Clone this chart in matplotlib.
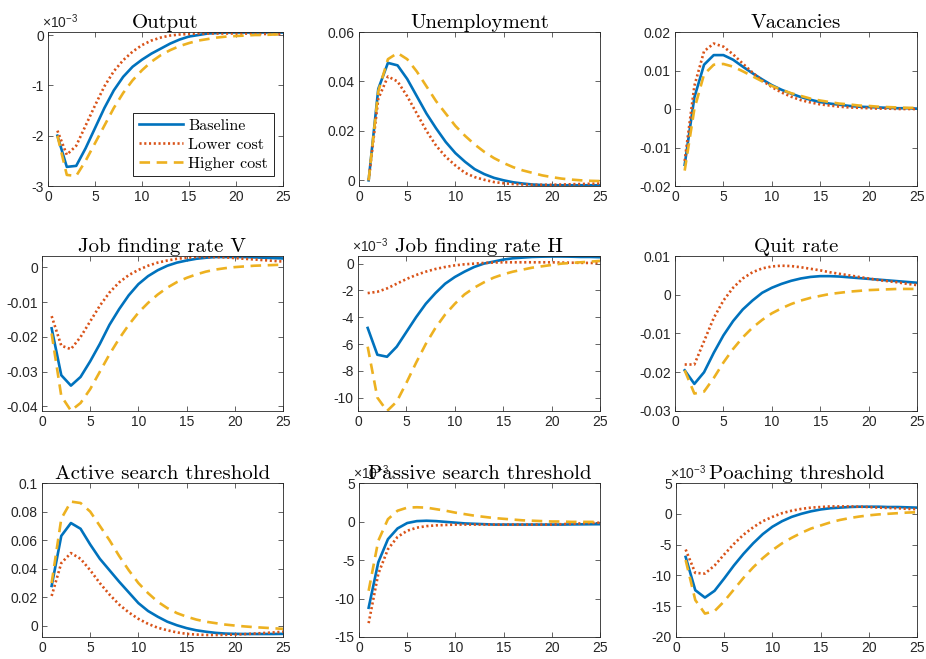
import matplotlib
matplotlib.use("Agg")
import matplotlib.pyplot as plt
from matplotlib.ticker import FuncFormatter
import numpy as np

plt.rcParams['font.family'] = ['Liberation Sans', 'DejaVu Sans']
plt.rcParams['axes.unicode_minus'] = False
plt.rcParams['mathtext.fontset'] = 'custom'
plt.rcParams['mathtext.rm'] = 'Liberation Sans'
plt.rcParams['mathtext.it'] = 'Liberation Sans'

# -----------------------------
# data (horizon 1..25)
# -----------------------------
t = np.arange(1, 26)

# Output (x1e-3)
output_base = [-2.0, -2.62, -2.6, -2.25, -1.85, -1.45, -1.1, -0.83, -0.63, -0.49, -0.37, -0.27, -0.17,
               -0.09, -0.03, 0.0, 0.03, 0.04, 0.05, 0.05, 0.05, 0.05, 0.05, 0.05, 0.05]
output_low = [-1.9, -2.38, -2.2, -1.8, -1.4, -1.02, -0.72, -0.5, -0.33, -0.2, -0.11, -0.05, -0.01,
              0.01, 0.02, 0.03, 0.03, 0.03, 0.03, 0.03, 0.03, 0.02, 0.02, 0.02, 0.02]
output_high = [-2.0, -2.78, -2.8, -2.5, -2.15, -1.8, -1.45, -1.15, -0.9, -0.7, -0.53, -0.4, -0.3,
               -0.22, -0.16, -0.11, -0.08, -0.05, -0.03, -0.02, -0.01, 0.0, 0.0, 0.01, 0.01]

# Unemployment
unemp_base = [0.0, 0.037, 0.0475, 0.0465, 0.041, 0.034, 0.027, 0.021, 0.0155, 0.011, 0.0075, 0.0045,
              0.0025, 0.001, 0.0, -0.0008, -0.0013, -0.0017, -0.0019, -0.002, -0.002, -0.002, -0.002,
              -0.002, -0.002]
unemp_low = [0.0, 0.033, 0.042, 0.04, 0.034, 0.027, 0.02, 0.014, 0.0095, 0.006, 0.003, 0.0013, 0.0002,
             -0.0007, -0.0012, -0.0015, -0.0017, -0.0018, -0.0018, -0.0018, -0.0017, -0.0016, -0.0015,
             -0.0014, -0.0013]
unemp_high = [0.0, 0.036, 0.049, 0.0515, 0.049, 0.044, 0.038, 0.032, 0.027, 0.022, 0.018, 0.0145,
              0.0115, 0.009, 0.007, 0.0053, 0.004, 0.003, 0.002, 0.0013, 0.0007, 0.0003, 0.0, -0.0002,
              -0.0003]

# Vacancies
vac_base = [-0.0145, 0.003, 0.0115, 0.014, 0.014, 0.0128, 0.011, 0.0093, 0.0077, 0.0062, 0.005, 0.004,
            0.0031, 0.0024, 0.0018, 0.0014, 0.0011, 0.0008, 0.0006, 0.0005, 0.0004, 0.0003, 0.0002,
            0.0002, 0.0001]
vac_low = [-0.0135, 0.006, 0.015, 0.017, 0.0162, 0.0142, 0.0118, 0.0095, 0.0074, 0.0057, 0.0043, 0.0032,
           0.0023, 0.0017, 0.0012, 0.0009, 0.0006, 0.0004, 0.0003, 0.0002, 0.0001, 0.0001, 0.0, 0.0, 0.0]
vac_high = [-0.016, 0.0, 0.009, 0.0115, 0.0117, 0.011, 0.0098, 0.0085, 0.0072, 0.006, 0.005, 0.0041,
            0.0034, 0.0027, 0.0022, 0.0018, 0.0014, 0.0012, 0.0009, 0.0008, 0.0006, 0.0005, 0.0004,
            0.0003, 0.0003]

# Job finding rate V
jfv_base = [-0.0175, -0.031, -0.034, -0.0315, -0.027, -0.022, -0.0165, -0.012, -0.008, -0.0048, -0.0025,
            -0.0008, 0.0005, 0.0014, 0.002, 0.0025, 0.0028, 0.003, 0.003, 0.003, 0.003, 0.0029, 0.0028,
            0.0027, 0.0026]
jfv_low = [-0.014, -0.0225, -0.0235, -0.02, -0.0155, -0.011, -0.0072, -0.0043, -0.0022, -0.0007, 0.0005,
           0.0014, 0.002, 0.0025, 0.0028, 0.003, 0.003, 0.003, 0.0029, 0.0027, 0.0025, 0.0023, 0.0021,
           0.0019, 0.0017]
jfv_high = [-0.019, -0.037, -0.0412, -0.039, -0.035, -0.03, -0.025, -0.0205, -0.0165, -0.013, -0.0102,
            -0.0078, -0.0058, -0.0042, -0.003, -0.002, -0.0012, -0.0006, -0.0002, 0.0001, 0.0003, 0.0005,
            0.0006, 0.0007, 0.0008]

# Job finding rate H (x1e-3)
jfh_base = [-4.8, -6.8, -6.95, -6.2, -5.1, -4.0, -3.0, -2.2, -1.5, -1.0, -0.6, -0.25, 0.0, 0.15, 0.3,
            0.4, 0.45, 0.5, 0.52, 0.53, 0.53, 0.52, 0.5, 0.5, 0.48]
jfh_low = [-2.2, -2.1, -1.85, -1.5, -1.15, -0.85, -0.6, -0.4, -0.25, -0.13, -0.05, 0.0, 0.05, 0.08, 0.1,
           0.1, 0.1, 0.1, 0.1, 0.1, 0.08, 0.07, 0.06, 0.05, 0.05]
jfh_high = [-6.2, -10.0, -11.0, -10.3, -8.9, -7.4, -6.0, -4.8, -3.8, -3.0, -2.3, -1.8, -1.4, -1.05, -0.8,
            -0.6, -0.45, -0.3, -0.2, -0.1, 0.0, 0.05, 0.1, 0.15, 0.2]

# Quit rate
quit_base = [-0.0195, -0.023, -0.02, -0.015, -0.0105, -0.0068, -0.0038, -0.0015, 0.0005, 0.0018, 0.0028,
             0.0036, 0.0042, 0.0046, 0.0048, 0.0048, 0.0047, 0.0045, 0.0043, 0.0041, 0.0039, 0.0037,
             0.0035, 0.0033, 0.0031]
quit_low = [-0.018, -0.018, -0.012, -0.006, -0.0015, 0.0018, 0.0042, 0.0058, 0.0068, 0.0073, 0.0075,
            0.0074, 0.0071, 0.0067, 0.0063, 0.0058, 0.0054, 0.005, 0.0046, 0.0042, 0.0038, 0.0035, 0.0032,
            0.0028, 0.0025]
quit_high = [-0.0195, -0.0255, -0.025, -0.0215, -0.0175, -0.014, -0.011, -0.0085, -0.0065, -0.0048,
             -0.0035, -0.0024, -0.0015, -0.0008, -0.0003, 0.0002, 0.0005, 0.0008, 0.001, 0.0012, 0.0013,
             0.0014, 0.0015, 0.0015, 0.0015]

# Active search threshold
act_base = [0.028, 0.063, 0.072, 0.068, 0.057, 0.047, 0.039, 0.031, 0.0235, 0.016, 0.0105, 0.0065, 0.003,
            0.0005, -0.0015, -0.003, -0.004, -0.0048, -0.0053, -0.0055, -0.0056, -0.0056, -0.0056,
            -0.0056, -0.0055]
act_low = [0.021, 0.044, 0.051, 0.047, 0.039, 0.03, 0.022, 0.015, 0.0095, 0.005, 0.0015, -0.0012, -0.003,
           -0.0045, -0.0055, -0.006, -0.0063, -0.0063, -0.0062, -0.006, -0.0057, -0.0053, -0.0049,
           -0.0045, -0.004]
act_high = [0.03, 0.075, 0.087, 0.086, 0.08, 0.07, 0.06, 0.049, 0.039, 0.03, 0.023, 0.017, 0.0125, 0.009,
            0.0065, 0.0045, 0.003, 0.002, 0.001, 0.0003, -0.0003, -0.0008, -0.0012, -0.0016, -0.002]

# Passive search threshold (x1e-3)
pas_base = [-11.2, -5.3, -2.3, -0.9, -0.2, 0.05, 0.1, 0.05, -0.05, -0.15, -0.25, -0.3, -0.35, -0.4, -0.4,
            -0.4, -0.4, -0.4, -0.4, -0.4, -0.4, -0.38, -0.37, -0.36, -0.35]
pas_low = [-13.2, -6.8, -3.6, -2.0, -1.2, -0.8, -0.6, -0.5, -0.45, -0.4, -0.4, -0.4, -0.4, -0.4, -0.4,
           -0.4, -0.4, -0.4, -0.4, -0.4, -0.35, -0.3, -0.25, -0.2, -0.15]
pas_high = [-9.0, -2.5, 0.3, 1.4, 1.8, 1.85, 1.8, 1.6, 1.4, 1.15, 0.95, 0.75, 0.6, 0.45, 0.35, 0.25,
            0.15, 0.1, 0.05, 0.0, 0.0, -0.05, -0.05, -0.05, -0.05]

# Poaching threshold (x1e-3)
poach_base = [-7.0, -12.4, -13.6, -12.5, -10.5, -8.4, -6.5, -4.8, -3.3, -2.1, -1.2, -0.5, 0.0, 0.4, 0.7,
              0.9, 1.0, 1.1, 1.15, 1.15, 1.15, 1.1, 1.1, 1.05, 1.0]
poach_low = [-5.8, -9.6, -9.7, -8.4, -6.6, -4.9, -3.4, -2.2, -1.2, -0.5, 0.1, 0.5, 0.8, 1.0, 1.1, 1.2,
             1.2, 1.2, 1.15, 1.1, 1.0, 0.95, 0.9, 0.8, 0.75]
poach_high = [-7.5, -14.0, -16.2, -15.8, -14.2, -12.3, -10.4, -8.7, -7.2, -5.9, -4.8, -3.9, -3.1, -2.4,
              -1.9, -1.4, -1.0, -0.7, -0.45, -0.25, -0.1, 0.0, 0.1, 0.2, 0.25]

titles = ["Output", "Unemployment", "Vacancies",
          "Job finding rate V", "Job finding rate H", "Quit rate",
          "Active search threshold", "Passive search threshold", "Poaching threshold"]
series = [(output_base, output_low, output_high), (unemp_base, unemp_low, unemp_high),
          (vac_base, vac_low, vac_high), (jfv_base, jfv_low, jfv_high),
          (jfh_base, jfh_low, jfh_high), (quit_base, quit_low, quit_high),
          (act_base, act_low, act_high), (pas_base, pas_low, pas_high),
          (poach_base, poach_low, poach_high)]
ylims = [(-3, 0.06), (-0.0023, 0.06), (-0.02, 0.02),
         (-0.0413, 0.0033), (-11, 0.57), (-0.03, 0.01),
         (-0.0077, 0.1), (-15, 5), (-20, 5)]
yticks = [np.arange(-3, 0.5, 1), np.arange(0, 0.061, 0.02), np.arange(-0.02, 0.021, 0.01),
          np.arange(-0.04, 0.001, 0.01), np.arange(-10, 0.5, 2), np.arange(-0.03, 0.011, 0.01),
          np.arange(0, 0.101, 0.02), np.arange(-15, 5.5, 5), np.arange(-20, 5.5, 5)]
scaled = [True, False, False, False, True, False, False, True, True]
labels = ["Baseline", "Lower cost", "Higher cost"]

# 像素位置 (left, right, top, bottom)
boxes = [(48, 283, 32, 186), (359, 600, 32, 186), (675, 917, 32, 186),
         (42, 283, 256, 411), (358, 600, 256, 411), (675, 917, 256, 411),
         (42, 283, 483, 637), (359, 600, 483, 637), (676, 917, 483, 637)]

W, H = 926, 659
fig = plt.figure(figsize=(W / 100, H / 100), dpi=100)

blue, red, yellow = "#0072BD", "#D95319", "#EDB120"
grey = "#262626"

fmt = FuncFormatter(lambda v, p: "%g" % round(v, 10))

for i in range(9):
    l, r, tp, b = boxes[i]
    ax = fig.add_axes([l / W, 1 - b / H, (r - l) / W, (b - tp) / H])
    base, low, high = series[i]
    ax.plot(t, base, color=blue, lw=1.9, label=labels[0])
    ax.plot(t, low, color=red, lw=1.9, ls=(0, (0.8, 1.0)), label=labels[1])
    ax.plot(t, high, color=yellow, lw=1.9, ls=(0, (4, 2.5)), label=labels[2])

    ax.set_xlim(0, 25)
    ax.set_xticks(np.arange(0, 26, 5))
    ax.set_ylim(*ylims[i])
    ax.set_yticks(yticks[i])
    ax.yaxis.set_major_formatter(fmt)
    ax.tick_params(direction="in", top=True, right=True, length=3.5, width=0.5,
                   labelsize=10, colors=grey, pad=3)
    for s in ax.spines.values():
        s.set_linewidth(0.6)
        s.set_color(grey)

    if scaled[i]:
        ax.text(-0.025, 1.005, r"$\times10^{-3}$", transform=ax.transAxes, ha="left", va="bottom",
                fontsize=10, color=grey, zorder=1)

    ax.set_title(titles[i], fontfamily="cmr10", fontsize=15, pad=3)

    if i == 0:
        leg = ax.legend(loc="lower right", bbox_to_anchor=(0.96, 0.062), borderaxespad=0,
                        prop={"family": "cmr10", "size": 11.5}, fancybox=False,
                        edgecolor="black", framealpha=1, handlelength=2.8,
                        handletextpad=0.3, labelspacing=0.3, borderpad=0.35)
        leg.get_frame().set_linewidth(0.6)

fig.savefig("out.png", dpi=100)
